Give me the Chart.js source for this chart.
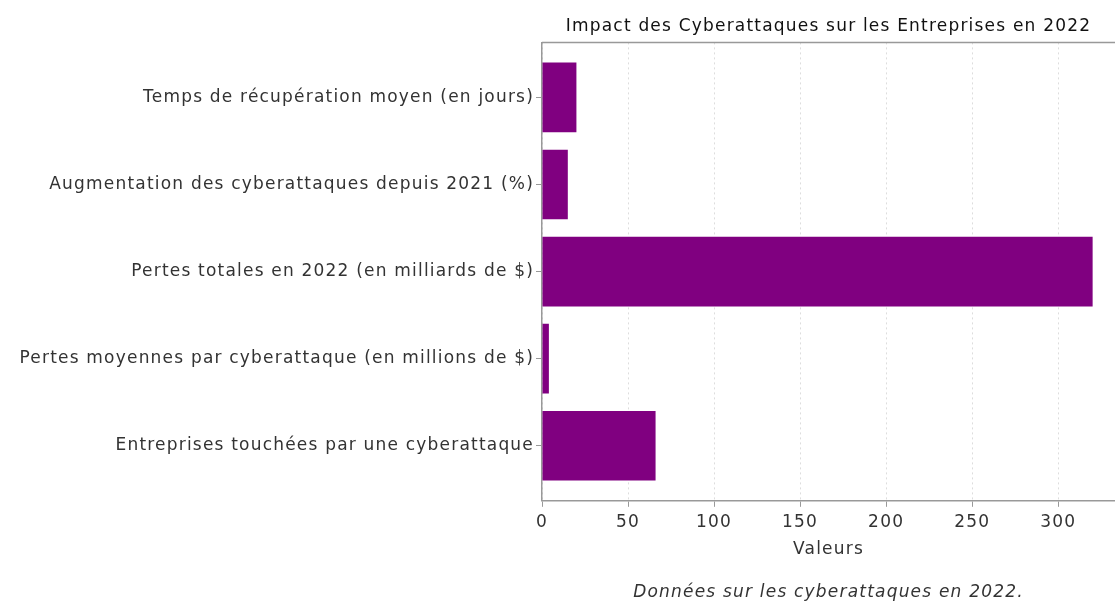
<!DOCTYPE html>
<html>
<head>
<meta charset="utf-8">
<script src="https://cdn.jsdelivr.net/npm/chart.js@4"></script>
<style>
  html, body { margin: 0; padding: 0; background: #fff; }
  #wrap { width: 1115px; height: 603px; }
</style>
</head>
<body>
<div id="wrap"><canvas id="cyberChart" width="1115" height="603"></canvas></div>
<script>
// Data
const categories = [
    'Temps de récupération moyen (en jours)',
    'Augmentation des cyberattaques depuis 2021 (%)',
    'Pertes totales en 2022 (en milliards de $)',
    'Pertes moyennes par cyberattaque (en millions de $)',
    'Entreprises touchées par une cyberattaque'
];
const values = [20, 15, 320, 4, 66];
const xTicks = [0, 50, 100, 150, 200, 250, 300];

const FONT = 'DejaVu Sans';
const PURPLE = '#800080';

// wider lettering, closer to the geometric font of the original
const spacing = {
    id: 'spacing',
    beforeLayout(chart) { chart.ctx.letterSpacing = '1.2px'; },
    beforeDraw(chart) { chart.ctx.letterSpacing = '1.2px'; }
};

// top frame line (the box edge above the bars)
const frameTop = {
    id: 'frameTop',
    afterDraw(chart) {
        const { ctx, chartArea } = chart;
        ctx.save();
        ctx.strokeStyle = '#999';
        ctx.lineWidth = 1.5;
        ctx.beginPath();
        ctx.moveTo(chartArea.left, chartArea.top);
        ctx.lineTo(chartArea.right + 2, chartArea.top);
        ctx.stroke();
        ctx.restore();
    }
};

const ctx = document.getElementById('cyberChart').getContext('2d');
new Chart(ctx, {
    type: 'bar',
    data: {
        datasets: [{
            label: 'Valeurs',
            data: values.map((v, i) => ({ x: v, y: i })),
            backgroundColor: PURPLE,
            borderWidth: 0,
            barPercentage: 0.8,
            categoryPercentage: 1
        }]
    },
    options: {
        indexAxis: 'y',
        responsive: false,
        animation: false,
        layout: { padding: { left: 0, right: 0, top: 15, bottom: 0 } },
        plugins: {
            legend: { display: false },
            tooltip: { enabled: false },
            title: {
                display: true,
                fullSize: false,
                text: 'Impact des Cyberattaques sur les Entreprises en 2022',
                color: '#111',
                font: { family: FONT, size: 17, weight: 'normal' },
                padding: { top: 1, bottom: 6 }
            },
            subtitle: {
                display: true,
                position: 'bottom',
                fullSize: false,
                text: 'Données sur les cyberattaques en 2022.',
                color: '#333',
                font: { family: FONT, size: 17, style: 'italic' },
                padding: { top: 23, bottom: 0 }
            }
        },
        scales: {
            x: {
                min: 0,
                max: 333,
                afterBuildTicks: axis => { axis.ticks = xTicks.map(v => ({ value: v })); },
                ticks: { color: '#333', font: { family: FONT, size: 17 }, padding: 6 },
                grid: { color: '#ddd', lineWidth: 1, tickLength: 6, tickColor: '#999', tickBorderDash: [] },
                border: { color: '#999', width: 1.5, dash: [2, 3] },
                title: {
                    display: true,
                    text: 'Valeurs',
                    color: '#333',
                    font: { family: FONT, size: 17 },
                    padding: { top: 0, bottom: 0 }
                }
            },
            y: {
                type: 'linear',
                reverse: true,
                offset: false,
                min: -0.632,
                max: 4.632,
                afterBuildTicks: axis => { axis.ticks = categories.map((c, i) => ({ value: i })); },
                afterFit: axis => { axis.width = 542; },
                ticks: {
                    color: '#333',
                    font: { family: FONT, size: 17 },
                    padding: 2,
                    callback: v => categories[v]
                },
                grid: { offset: false, drawOnChartArea: false, tickLength: 6, tickColor: '#999' },
                border: { color: '#999', width: 1.5 }
            }
        }
    },
    plugins: [spacing, frameTop]
});
</script>
</body>
</html>
